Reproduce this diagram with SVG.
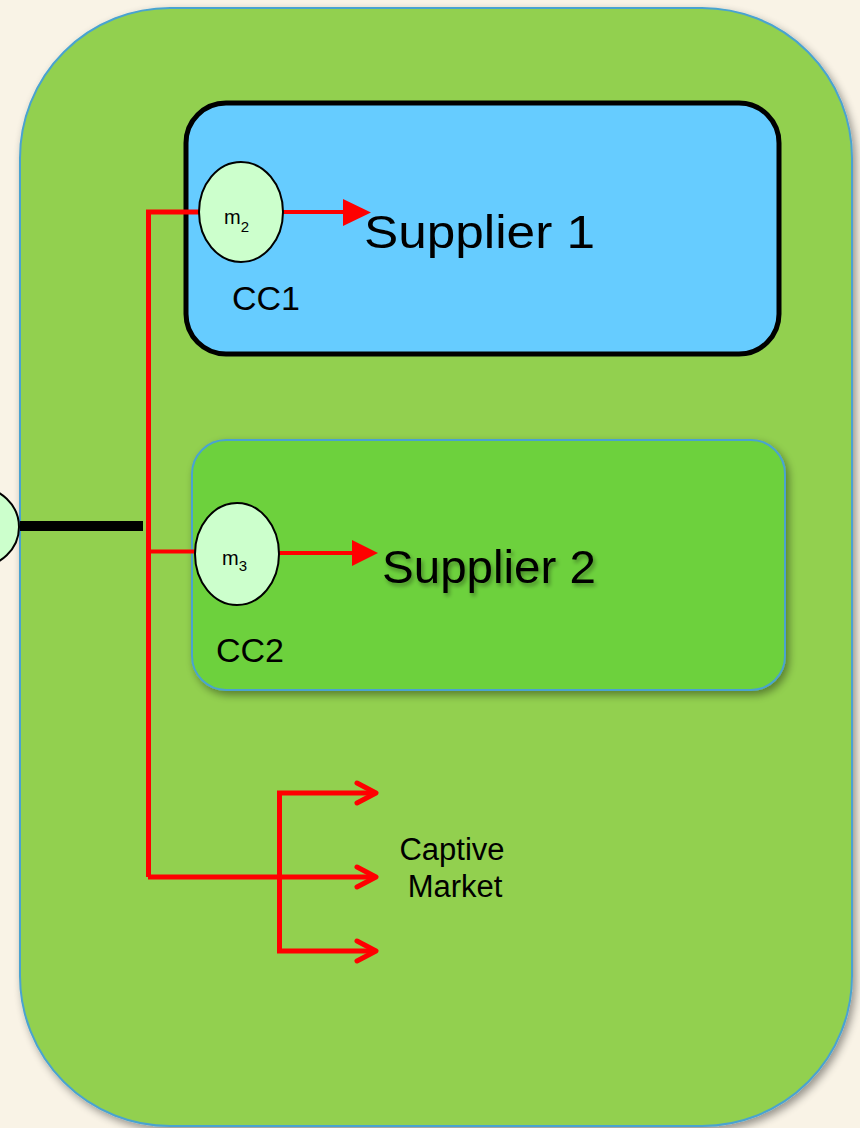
<svg xmlns="http://www.w3.org/2000/svg" width="860" height="1128" viewBox="0 0 860 1128">
<defs>
<style>
.t{font-family:"Liberation Sans",Arial,sans-serif;fill:#000}
.red{stroke:#ff0000;fill:none}
.node{fill:#ccffcc;stroke:#000;stroke-width:2}
</style>
<filter id="sh" x="-10%" y="-10%" width="120%" height="120%">
<feGaussianBlur in="SourceAlpha" stdDeviation="4"/>
<feOffset dx="3" dy="4" result="b"/>
<feComponentTransfer><feFuncA type="linear" slope="0.4"/></feComponentTransfer>
<feMerge><feMergeNode/><feMergeNode in="SourceGraphic"/></feMerge>
</filter>
<filter id="tsh" x="-10%" y="-20%" width="120%" height="140%">
<feGaussianBlur in="SourceAlpha" stdDeviation="2"/>
<feOffset dx="2" dy="3"/>
<feComponentTransfer><feFuncA type="linear" slope="0.35"/></feComponentTransfer>
<feMerge><feMergeNode/><feMergeNode in="SourceGraphic"/></feMerge>
</filter>
</defs>
<rect width="860" height="1128" fill="#f9f3e6"/>
<g id="outer">
<rect x="20" y="8" width="832" height="1118" rx="150" ry="150" fill="#92d050" stroke="#4aa3d0" stroke-width="2" filter="url(#sh)"/>
</g>
<g id="cc1">
<rect x="186" y="103" width="593" height="251" rx="40" ry="40" fill="#66ccff" stroke="#000" stroke-width="5"/>
<text class="t" x="232" y="310" font-size="34">CC1</text>
</g>
<g id="cc2">
<rect x="192" y="440" width="593" height="250" rx="34" ry="34" fill="#6dd13c" stroke="#4aa3d0" stroke-width="2" filter="url(#sh)"/>
<text class="t" x="216" y="662" font-size="34">CC2</text>
</g>
<g id="connectors">
<line x1="20" y1="526" x2="143" y2="526" stroke="#000" stroke-width="10"/>
<polyline class="red" stroke-width="5" points="148.5,877 148.5,212 200,212"/>
<line class="red" stroke-width="4" x1="148" y1="551.5" x2="196" y2="551.5"/>
<line class="red" stroke-width="4" x1="283" y1="212" x2="346" y2="212"/>
<path d="M343,199 L371,212.5 L343,226 z" fill="#ff0000"/>
<line class="red" stroke-width="4" x1="279" y1="553" x2="355" y2="553"/>
<path d="M352,540 L378,553 L352,566 z" fill="#ff0000"/>
<line class="red" stroke-width="5" x1="148" y1="877" x2="374" y2="877"/>
<polyline class="red" stroke-width="5" points="374,793 279.5,793 279.5,951 374,951"/>
<g class="red" stroke-width="5" stroke-linecap="round" stroke-linejoin="round">
<polyline points="357,783 376,793 357,803"/>
<polyline points="357,867 376,877 357,887"/>
<polyline points="357,941 376,951 357,961"/>
</g>
</g>
<g id="m2">
<ellipse class="node" cx="241" cy="212" rx="42" ry="50"/>
<text class="t" x="224" y="224" font-size="20">m<tspan font-size="15" dy="8">2</tspan></text>
</g>
<g id="m3">
<ellipse class="node" cx="237" cy="554" rx="42" ry="51"/>
<text class="t" x="222" y="565" font-size="20">m<tspan font-size="15" dy="6">3</tspan></text>
</g>
<g id="m1">
<ellipse class="node" cx="-23" cy="527" rx="42" ry="40"/>
</g>
<g id="supplier1">
<text class="t" x="364" y="248" font-size="46" textLength="231" lengthAdjust="spacingAndGlyphs">Supplier 1</text>
</g>
<g id="supplier2">
<text class="t" x="382" y="583" font-size="47" filter="url(#tsh)" textLength="214" lengthAdjust="spacingAndGlyphs">Supplier 2</text>
</g>
<g id="captive">
<text class="t" x="452" y="860" font-size="31" text-anchor="middle">Captive</text>
<text class="t" x="455" y="897" font-size="31" text-anchor="middle">Market</text>
</g>
</svg>
